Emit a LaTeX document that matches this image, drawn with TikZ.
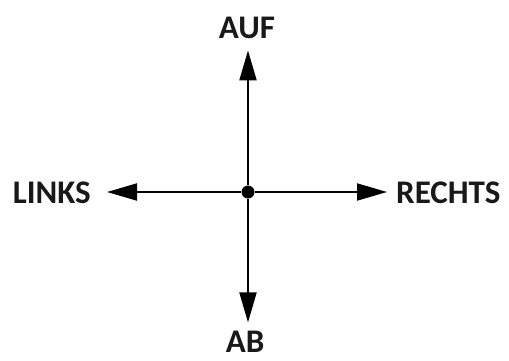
\documentclass[tikz,border=0pt]{standalone}
\usepackage{fontspec}
\setmainfont{Carlito}
\usetikzlibrary{arrows.meta, positioning}

\begin{document}
\begin{tikzpicture}[x=1pt, y=-1pt,
    richtung/.style={font=\fontsize{33}{33}\selectfont\bfseries, inner sep=0pt, text=black!90},
    pfeil/.style={line width=2pt, -{Triangle[length=30pt, width=17pt]}},
    punkt/.style={circle, fill=black, inner sep=0pt, minimum size=13pt}]
    \useasboundingbox (0,0) rectangle (509,360);

    % Mittelpunkt
    \node[punkt] (mitte) at (248,192) {};

    % Beschriftungen
    \node[richtung, anchor=base] (auf) at (247,38) {AUF};
    \node[richtung, anchor=base] (ab) at (245,352) {AB};
    \node[richtung, anchor=base east] (links) at (91,203) {LINKS};
    \node[richtung, anchor=base west] (rechts) at (396,203) {RECHTS};

    % Pfeile
    \draw[pfeil, shorten >=12pt] (mitte) -- (mitte |- auf.south);
    \draw[pfeil, shorten >=8pt] (mitte) -- (mitte |- ab.north);
    \draw[pfeil, shorten >=16pt] (mitte) -- (links.east |- mitte);
    \draw[pfeil, shorten >=9pt] (mitte) -- (rechts.west |- mitte);
\end{tikzpicture}
\end{document}
